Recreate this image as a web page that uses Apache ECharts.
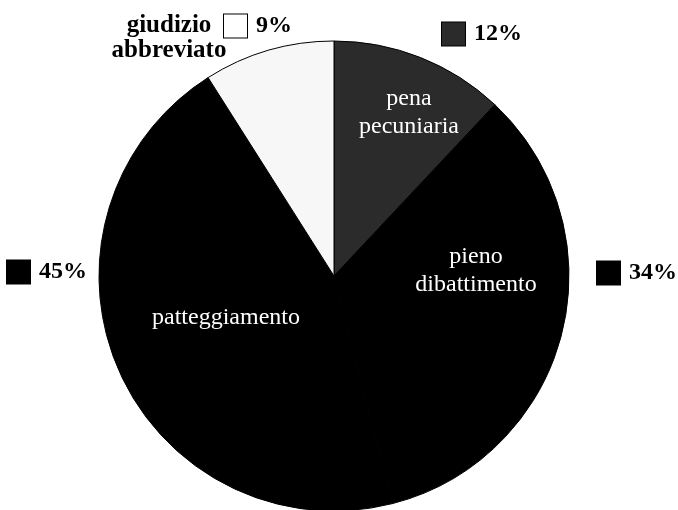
<!DOCTYPE html>
<html>
<head>
<meta charset="utf-8">
<script src="https://cdn.jsdelivr.net/npm/echarts@6/dist/echarts.min.js"></script>
<style>html,body{margin:0;padding:0;background:#fff}#c{width:678px;height:510px}</style>
</head>
<body>
<div id="c"></div>
<script>
// Data
var categories = ['pena pecuniaria', 'pieno dibattimento', 'patteggiamento', 'giudizio abbreviato'];
var values = [12, 34, 45, 9];
var colors = ['#2b2b2b', '#000000', '#000000', '#f7f7f7'];

// Layout (label anchor points, not data)
var nameLabelPos = [[409, 113], [476, 271], [226, 318], [169, 38]];
var valueLabelPos = [[442, 34], [597, 273], [7, 272], [224, 26]];

var chart = echarts.init(document.getElementById('c'));
var font = "'Liberation Serif'";

var mainData = categories.map(function (n, i) {
  var d = { name: n, value: values[i], itemStyle: { color: colors[i] } };
  if (i === 3) {
    d.label = { color: '#000', fontWeight: 'bold', fontSize: 25, lineHeight: 25, fontFamily: font };
  }
  return d;
});
var valData = categories.map(function (n, i) {
  return { name: n, value: values[i] };
});

var sq = function (c) {
  return { width: 23, height: 23, backgroundColor: c, borderColor: '#000', borderWidth: 1 };
};

chart.setOption({
  animation: false,
  textStyle: { fontFamily: font },
  series: [
    {
      type: 'pie',
      center: [334, 276],
      radius: 235,
      startAngle: 90,
      clockwise: true,
      data: mainData,
      itemStyle: { borderColor: '#000', borderWidth: 1 },
      label: {
        show: true,
        position: 'inside',
        color: '#fff',
        fontFamily: font,
        fontSize: 24,
        lineHeight: 28,
        align: 'center',
        formatter: function (p) { return p.name.replace(' ', '\n'); }
      },
      labelLine: { show: false },
      labelLayout: function (p) {
        var pos = nameLabelPos[p.dataIndex];
        return { x: pos[0], y: pos[1], align: 'center', verticalAlign: 'middle' };
      },
      emphasis: { disabled: true }
    },
    {
      type: 'pie',
      center: [334, 276],
      radius: 235,
      startAngle: 90,
      silent: true,
      itemStyle: { color: 'transparent', borderWidth: 0 },
      data: valData,
      label: {
        show: true,
        position: 'inside',
        fontFamily: font,
        formatter: function (p) {
          return '{s' + p.dataIndex + '|}{v|' + p.value + '%}';
        },
        rich: {
          s0: sq(colors[0]),
          s1: sq(colors[1]),
          s2: sq(colors[2]),
          s3: sq('#ffffff'),
          v: { fontFamily: font, fontWeight: 'bold', fontSize: 24, color: '#000', padding: [0, 0, 0, 9] }
        }
      },
      labelLine: { show: false },
      labelLayout: function (p) {
        var pos = valueLabelPos[p.dataIndex];
        return { x: pos[0], y: pos[1], align: 'left', verticalAlign: 'middle' };
      },
      emphasis: { disabled: true }
    }
  ]
});
</script>
</body>
</html>
